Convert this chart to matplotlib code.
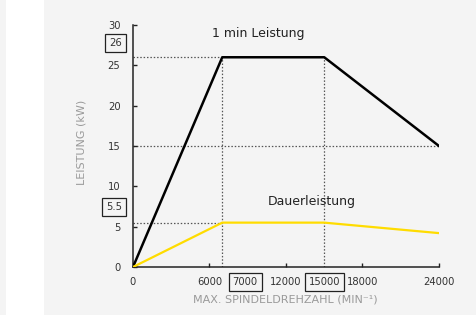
import matplotlib.pyplot as plt
from matplotlib.patches import Rectangle
import matplotlib.transforms as mtransforms

# ---- data ----
drehzahl = [0, 7000, 15000, 24000]
leistung_1min = [0, 26, 26, 15]
dauerleistung = [0, 5.5, 5.5, 4.2]

x_ticks = [0, 6000, 12000, 18000, 24000]
y_ticks = [0, 5, 10, 15, 20, 25, 30]
x_marks = [7000, 15000]      # boxed speeds
y_marks = [26, 5.5]          # boxed powers

bg = '#f4f4f4'
tick_col = '#333333'
label_col = '#9a9a9a'
gelb = '#ffdc00'
fs = 7.2

plt.rcParams['font.family'] = ['DejaVu Sans']

fig = plt.figure(figsize=(4.77, 3.15), dpi=100, facecolor=bg)
fig.patches.append(Rectangle((6 / 477, 0), 38 / 477, 1, transform=fig.transFigure,
                             facecolor='white', edgecolor='none', zorder=0))
ax = fig.add_axes([133 / 477, 48 / 315, 306 / 477, 242 / 315])
ax.set_facecolor(bg)

# Hilfslinien (gepunktet)
dot = dict(color='#555555', lw=0.9, ls=(0, (1.2, 1.5)), zorder=1)
ax.plot([0, 7000], [26, 26], **dot)
ax.plot([0, 24000], [15, 15], **dot)
ax.plot([0, 7000], [5.5, 5.5], **dot)
ax.plot([7000, 7000], [0, 26], **dot)
ax.plot([15000, 15000], [0, 26], **dot)

ax.plot(drehzahl, leistung_1min, color='black', lw=1.8, zorder=3)
ax.plot(drehzahl, dauerleistung, color=gelb, lw=1.6, zorder=3)

ax.set_xlim(0, 24000)
ax.set_ylim(0, 30)
ax.set_xticks(x_ticks)
ax.set_yticks(y_ticks)
ax.tick_params(direction='in', length=3, width=1, colors='#222222',
               labelcolor=tick_col, labelsize=fs)
ax.tick_params(axis='y', pad=9)
ax.tick_params(axis='x', pad=7)
for s in ['top', 'right']:
    ax.spines[s].set_visible(False)
for s in ['left', 'bottom']:
    ax.spines[s].set_linewidth(1.1)
    ax.spines[s].set_color('#222222')

# eingerahmte Werte
box = dict(boxstyle='square,pad=0.4', fc='none', ec='#222222', lw=0.9)
xt = mtransforms.blended_transform_factory(ax.transData, ax.transAxes)
yt = mtransforms.blended_transform_factory(ax.transAxes, ax.transData)
ax.annotate(f'{x_marks[0]}', xy=(x_marks[0], 0), xycoords=xt, xytext=(7.5, -7.5),
            textcoords='offset points', ha='left', va='top', fontsize=fs,
            color=tick_col, bbox=box)
ax.annotate(f'{x_marks[1]}', xy=(x_marks[1], 0), xycoords=xt, xytext=(0, -7.5),
            textcoords='offset points', ha='center', va='top', fontsize=fs,
            color=tick_col, bbox=box)
ax.annotate(f'{y_marks[0]}', xy=(0, y_marks[0]), xycoords=yt, xytext=(-8, 10),
            textcoords='offset points', ha='right', va='center', fontsize=fs,
            color=tick_col, bbox=box)
ax.annotate(f'{y_marks[1]}', xy=(0, y_marks[1]), xycoords=yt, xytext=(-8, 11),
            textcoords='offset points', ha='right', va='center', fontsize=fs,
            color=tick_col, bbox=box)

ax.text(6200, 29, '1 min Leistung', fontsize=9, color='#222222', va='center')
ax.text(10600, 8.1, 'Dauerleistung', fontsize=9, color='#222222', va='center')

fig.text(82 / 477, 1 - 142 / 315, 'LEISTUNG (kW)', rotation=90, ha='center',
         va='center', fontsize=8, color=label_col)
fig.text(285 / 477, 1 - 300 / 315, 'MAX. SPINDELDREHZAHL (MIN⁻¹)', ha='center',
         va='center', fontsize=8, color=label_col)

fig.savefig('out.png', dpi=100, facecolor=bg)
